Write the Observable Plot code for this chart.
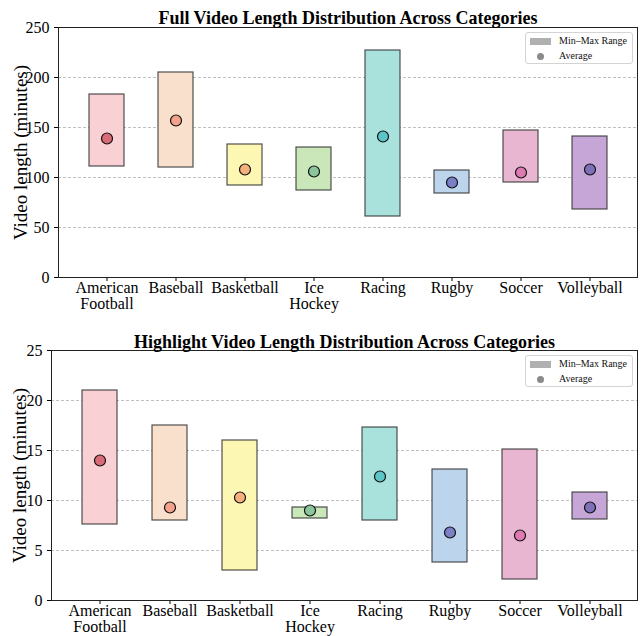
<!DOCTYPE html>
<html><head>
<meta charset="utf-8">
<script src="https://cdn.jsdelivr.net/npm/d3@7"></script>
<script src="https://cdn.jsdelivr.net/npm/@observablehq/plot@0.6"></script>
<style>
body{margin:0;background:#fff;font-family:"Liberation Serif",serif;}
.panel{position:relative;width:644px;height:318px;}
.panel svg{display:block;}
.legend{position:absolute;right:11px;width:108px;height:32px;box-sizing:border-box;border:1px solid #d4d4d4;border-radius:3px;background:rgba(255,255,255,0.85);font-family:"Liberation Serif",serif;font-size:10px;color:#111;}
.legend .row{position:absolute;left:0;height:14px;line-height:14px;}
.legend .sw{position:absolute;left:4px;top:3.5px;width:21px;height:7px;background:#b0b0b0;}
.legend .dt{position:absolute;left:11px;top:3.5px;width:7px;height:7px;border-radius:50%;background:#8a8a8a;}
.legend .lb{position:absolute;left:33px;white-space:nowrap;}
</style>
</head><body><div id="root"></div>
<script>
const categories = ["American Football","Baseball","Basketball","Ice Hockey","Racing","Rugby","Soccer","Volleyball"];
const catLabels = ["American\nFootball","Baseball","Basketball","Ice\nHockey","Racing","Rugby","Soccer","Volleyball"];

const fullMin = [111, 110, 92, 87, 61, 84, 95, 68];
const fullMax = [183, 205, 133, 130, 227, 107, 147, 141];
const fullAvg = [139, 157, 108, 106, 141, 95, 105, 108];

const hlMin = [7.6, 8.0, 3.0, 8.2, 8.0, 3.8, 2.1, 8.1];
const hlMax = [21.0, 17.5, 16.0, 9.3, 17.3, 13.1, 15.1, 10.8];
const hlAvg = [14.0, 9.3, 10.3, 9.0, 12.4, 6.8, 6.5, 9.3];

const barColors = ["#f9d0d4","#f9e0cc","#fcf7b3","#c9e7b8","#a9e2dc","#bdd5ec","#e8b6d0","#c6a6d6"];
const dotColors = ["#d96b78","#f4a28c","#f5b07c","#8cc49c","#5cc5c8","#7b80c6","#df7bb0","#7d70b8"];

const fullTicks = [0, 50, 100, 150, 200, 250];
const hlTicks = [0, 5, 10, 15, 20, 25];

function panel({title, mins, maxs, avgs, ticks, marginTop, marginBottom, marginLeft, ylabDx, titleDy}) {
  const rows = categories.map((c, i) => ({cat: c, min: mins[i], max: maxs[i], avg: avgs[i], fill: barColors[i], dot: dotColors[i]}));
  const plot = Plot.plot({
    width: 644, height: 318, marginTop, marginBottom, marginLeft, marginRight: 7,
    style: {fontFamily: "Liberation Serif", fontSize: "16px", color: "#000", background: "#fff", overflow: "visible"},
    x: {domain: categories, paddingInner: 0.5, paddingOuter: 0.386, label: null},
    y: {domain: [ticks[0], ticks[ticks.length - 1]], label: null},
    color: {type: "identity"},
    marks: [
      Plot.gridY(ticks.slice(1, -1), {stroke: "#b0b0b0", strokeOpacity: 1, strokeDasharray: "3,2", strokeWidth: 0.8}),
      Plot.barY(rows, {x: "cat", y1: "min", y2: "max", fill: "fill", stroke: "#333", strokeWidth: 1.2, strokeOpacity: 0.85}),
      Plot.dot(rows, {x: "cat", y: "avg", fill: "dot", stroke: "#111", strokeWidth: 1.2, r: 5.5}),
      Plot.axisX({tickSize: 4, tickPadding: 0, tickFormat: d => catLabels[categories.indexOf(d)], fontSize: 16, label: null, lineHeight: 1.02}),
      Plot.axisY({ticks, tickSize: 4, fontSize: 16, label: null}),
      Plot.frame({stroke: "#222", strokeWidth: 1}),
      Plot.text([title], {frameAnchor: "top", lineAnchor: "bottom", dy: titleDy, fontWeight: "bold", fontSize: 18}),
      Plot.text(["Video length (minutes)"], {frameAnchor: "left", textAnchor: "middle", lineAnchor: "middle", rotate: -90, dx: ylabDx, fontSize: 19})
    ]
  });
  const div = document.createElement("div");
  div.className = "panel";
  div.appendChild(plot);
  const lg = document.createElement("div");
  lg.className = "legend";
  lg.style.top = (marginTop + 5) + "px";
  lg.innerHTML = '<div class="row" style="top:1px;width:100%"><div class="sw"></div><span class="lb">Min\u2013Max Range</span></div>' +
                 '<div class="row" style="top:16px;width:100%"><div class="dt"></div><span class="lb">Average</span></div>';
  div.appendChild(lg);
  return div;
}

const root = document.getElementById("root");
root.appendChild(panel({title: "Full Video Length Distribution Across Categories", mins: fullMin, maxs: fullMax, avgs: fullAvg, ticks: fullTicks, marginTop: 27, marginBottom: 41, marginLeft: 58, ylabDx: -38, titleDy: -4}));
root.appendChild(panel({title: "Highlight Video Length Distribution Across Categories", mins: hlMin, maxs: hlMax, avgs: hlAvg, ticks: hlTicks, marginTop: 32, marginBottom: 36, marginLeft: 51, ylabDx: -32, titleDy: -3}));
</script>
</body></html>
